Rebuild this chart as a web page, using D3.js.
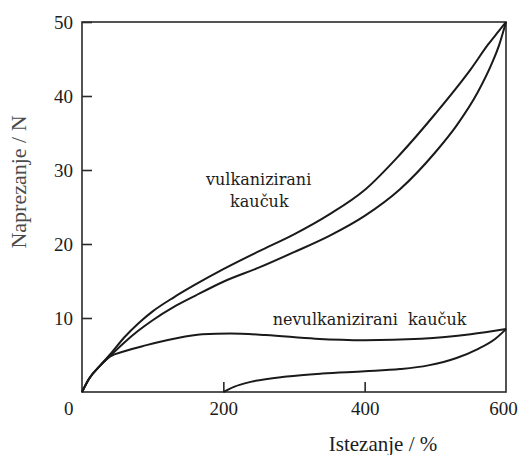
<!DOCTYPE html>
<html>
<head>
<meta charset="utf-8">
<script src="https://cdn.jsdelivr.net/npm/d3@7"></script>
<style>
  body { margin: 0; background: #fff; }
</style>
</head>
<body>
<div id="chart"></div>
<script>
// strain (%) and force (N)
var vulkLoadX   = [0, 10, 25, 40, 60, 80, 100, 130, 160, 200, 250, 300, 350, 400, 450, 500, 550, 575, 590, 600];
var vulkLoadY   = [0, 1.8, 3.5, 5.1, 7.4, 9.3, 10.9, 12.8, 14.5, 16.6, 19.0, 21.3, 24.0, 27.3, 32.1, 37.6, 43.6, 47.0, 48.8, 50];
var vulkUnloadX = [0, 10, 25, 40, 60, 80, 100, 130, 160, 200, 250, 300, 350, 400, 450, 500, 530, 560, 580, 590, 600];
var vulkUnloadY = [0, 1.8, 3.5, 4.9, 6.7, 8.3, 9.7, 11.5, 13.0, 14.9, 16.8, 18.9, 21.1, 23.8, 27.4, 32.4, 36.0, 40.5, 44.4, 46.8, 50];
var nevLoadX    = [0, 10, 25, 40, 60, 90, 130, 170, 210, 260, 330, 400, 480, 550, 600];
var nevLoadY    = [0, 1.8, 3.5, 4.8, 5.5, 6.3, 7.2, 7.8, 7.9, 7.7, 7.2, 7.0, 7.2, 7.8, 8.5];
var nevUnloadX  = [200, 215, 240, 290, 340, 400, 450, 490, 530, 560, 585, 600];
var nevUnloadY  = [0, 0.7, 1.4, 2.1, 2.5, 2.8, 3.1, 3.6, 4.6, 5.8, 7.2, 8.5];

var yTicks = [10, 20, 30, 40, 50];
var xTicks = [0, 200, 400, 600];

var labelFont = "'DejaVu Serif', serif";
var titleFont = "'Liberation Serif', serif";

var width = 520, height = 455;
var svg = d3.select("#chart").append("svg")
    .attr("width", width)
    .attr("height", height);

var x = d3.scaleLinear().domain([0, 600]).range([82, 506]);
var y = d3.scaleLinear().domain([0, 50]).range([392, 22]);

// frame
svg.append("rect")
    .attr("x", x(0)).attr("y", y(50))
    .attr("width", x(600) - x(0)).attr("height", y(0) - y(50))
    .attr("fill", "none").attr("stroke", "#2a2a2a").attr("stroke-width", 1.6);

// y axis, ticks pointing inward
var yAxis = svg.append("g")
    .attr("transform", "translate(" + x(0) + ",0)")
    .call(d3.axisLeft(y).tickValues(yTicks).tickSizeInner(-10).tickSizeOuter(0).tickPadding(9));

// x axis, ticks pointing inward
var xAxis = svg.append("g")
    .attr("transform", "translate(0," + y(0) + ")")
    .call(d3.axisBottom(x).tickValues(xTicks).tickSizeInner(-10).tickSizeOuter(0).tickPadding(10));

[yAxis, xAxis].forEach(function(g) {
    g.attr("font-family", null);
    g.select(".domain").remove();
    g.selectAll(".tick line").attr("stroke", "#2a2a2a").attr("stroke-width", 1.6);
    g.selectAll(".tick text")
      .style("font-family", titleFont).style("font-size", "19px").style("fill", "#1c1c1c");
});
// origin label sits left of the corner, 600 pulled in a bit
xAxis.selectAll(".tick text").filter(function(d) { return d == 0; })
    .attr("text-anchor", "end").attr("x", -9);
xAxis.selectAll(".tick text").filter(function(d) { return d == 600; })
    .attr("x", -3);
xAxis.selectAll(".tick line").filter(function(d) { return d == 0 || d == 600; }).remove();

var line = d3.line()
    .x(function(d) { return x(d[0]); })
    .y(function(d) { return y(d[1]); })
    .curve(d3.curveMonotoneX);

function zip(xs, ys) { return xs.map(function(v, i) { return [v, ys[i]]; }); }

[[vulkLoadX, vulkLoadY], [vulkUnloadX, vulkUnloadY], [nevLoadX, nevLoadY], [nevUnloadX, nevUnloadY]]
  .forEach(function(s) {
    svg.append("path")
        .datum(zip(s[0], s[1]))
        .attr("d", line)
        .attr("fill", "none")
        .attr("stroke", "#1a1a1a")
        .attr("stroke-width", 2);
  });

function label(px, py, txt, anchor) {
    return svg.append("text")
        .attr("x", px).attr("y", py)
        .attr("text-anchor", anchor)
        .style("font-family", labelFont).style("font-size", "16px").style("fill", "#1c1c1c")
        .style("white-space", "pre")
        .text(txt);
}
// curve labels
label(x(250), y(28.0), "vulkanizirani", "middle");
label(x(251), y(25.0), "kaučuk", "middle");
label(x(270), y(9.05), "nevulkanizirani  kaučuk", "start");

// axis titles
svg.append("text").attr("x", 383).attr("y", 451)
    .attr("text-anchor", "middle")
    .style("font-family", titleFont).style("font-size", "21px").style("fill", "#1c1c1c")
    .text("Istezanje / %");
svg.append("text")
    .attr("transform", "translate(26,182) rotate(-90)")
    .attr("text-anchor", "middle")
    .style("font-family", titleFont).style("font-size", "22px").style("fill", "#4a4a4a")
    .text("Naprezanje / N");
</script>
</body>
</html>
